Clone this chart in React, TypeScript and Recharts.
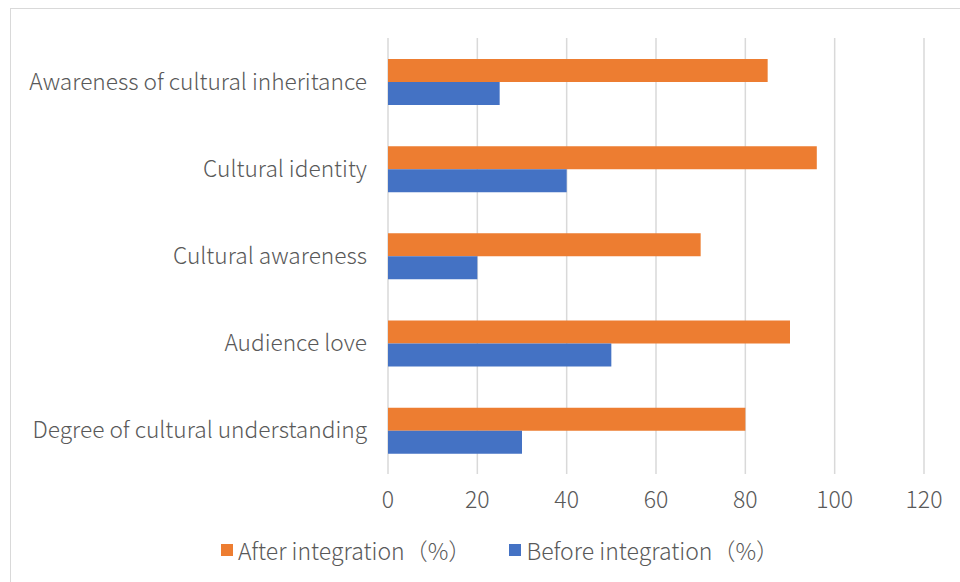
import React from 'react';
import { BarChart, Bar, XAxis, YAxis, CartesianGrid, Legend } from 'recharts';

const categories = [
  'Awareness of cultural inheritance',
  'Cultural identity',
  'Cultural awareness',
  'Audience love',
  'Degree of cultural understanding',
];
const afterValues = [85, 96, 70, 90, 80];
const beforeValues = [25, 40, 20, 50, 30];
const xTicks = [0, 20, 40, 60, 80, 100, 120];
const afterLabel = 'After integration（%）';
const beforeLabel = 'Before integration（%）';

const data = categories.map((name, i) => ({
  name,
  after: afterValues[i],
  before: beforeValues[i],
}));

const FONT = '"Noto Sans CJK SC", "Noto Sans", sans-serif';
const TEXT = '#595959';
const ORANGE = '#ED7D31';
const BLUE = '#4472C4';

const LegendContent = () => (
  <div
    style={{
      height: 40,
      width: 960,
      display: 'flex',
      justifyContent: 'center',
      alignItems: 'center',
      paddingLeft: 40,
      boxSizing: 'border-box',
      fontFamily: FONT,
      fontWeight: 300,
      fontSize: 23,
      color: TEXT,
    }}
  >
    {[
      { label: afterLabel, color: ORANGE },
      { label: beforeLabel, color: BLUE },
    ].map((it, i) => (
      <div key={i} style={{ display: 'flex', alignItems: 'center', marginLeft: i ? 38 : 0 }}>
        <span style={{ width: 12, height: 12, background: it.color, display: 'inline-block', marginRight: 5 }} />
        <span style={{ whiteSpace: 'nowrap' }}>{it.label}</span>
      </div>
    ))}
  </div>
);

export default function App() {
  return (
    <div style={{ position: 'absolute', left: 0, top: 0, width: 960, height: 582, overflow: 'hidden', background: '#fff' }}>
      <div
        style={{
          position: 'absolute',
          left: 10,
          top: 8,
          width: 1000,
          height: 620,
          borderLeft: '1.5px solid #d9d9d9',
          borderTop: '1.5px solid #d9d9d9',
        }}
      />
      <div style={{ position: 'absolute', left: 0, top: 0 }}>
        <BarChart
          width={960}
          height={582}
          data={data}
          layout="vertical"
          margin={{ top: 38, right: 36, bottom: 12, left: 0 }}
          barCategoryGap="24%"
          barGap={0}
        >
          <CartesianGrid horizontal={false} stroke="#d9d9d9" strokeWidth={1.5} />
          <XAxis
            type="number"
            domain={[0, 120]}
            ticks={xTicks}
            axisLine={false}
            tickLine={false}
            height={56}
            tickMargin={12}
            interval={0}
            tick={{ fill: TEXT, fontSize: 23, fontFamily: FONT, fontWeight: 300 }}
          />
          <YAxis
            type="category"
            dataKey="name"
            width={388}
            axisLine={false}
            tickLine={false}
            tickMargin={15}
            interval={0}
            tick={{ fill: TEXT, fontSize: 22.7, fontFamily: FONT, fontWeight: 300 }}
          />
          <Legend verticalAlign="bottom" height={40} wrapperStyle={{ left: 0, width: 960 }} content={<LegendContent />} />
          <Bar dataKey="after" name={afterLabel} fill={ORANGE} isAnimationActive={false} />
          <Bar dataKey="before" name={beforeLabel} fill={BLUE} isAnimationActive={false} />
        </BarChart>
      </div>
    </div>
  );
}
